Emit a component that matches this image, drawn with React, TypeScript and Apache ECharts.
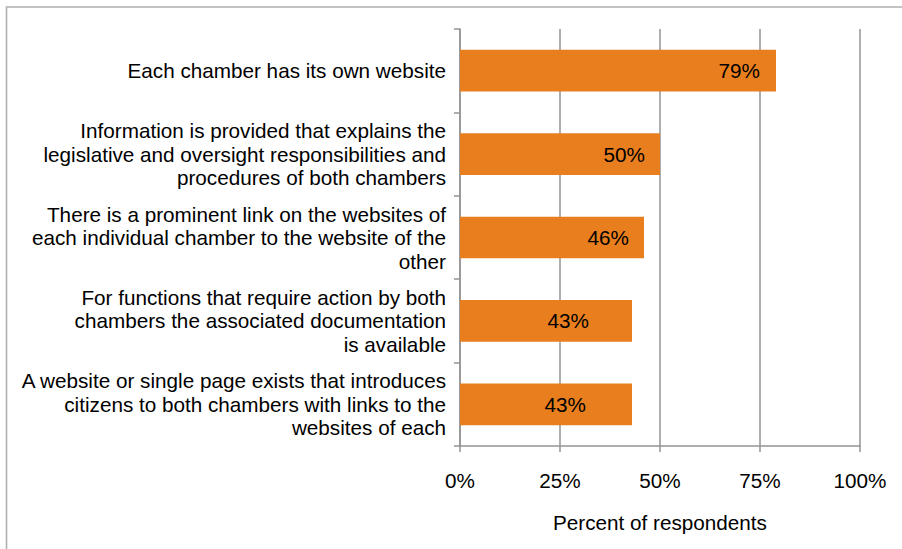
import React, { useEffect, useRef } from "react";
import * as echarts from "echarts";

const categories: string[] = [
  "Each chamber has its own website",
  "Information is provided that explains the\nlegislative and oversight responsibilities and\nprocedures of both chambers",
  "There is a prominent link on the websites of\neach individual chamber to the website of the\nother",
  "For functions that require action by both\nchambers the associated documentation\nis available",
  "A website or single page exists that introduces\ncitizens to both chambers with links to the\nwebsites of each",
];
const values: number[] = [79, 50, 46, 43, 43];
const xTicks: number[] = [0, 25, 50, 75, 100];
const axisName = "Percent of respondents";

// label inset from bar end (style only)
const labelInsets: number[] = [16, 15, 15, 43, 46];

const FONT = 'Arial, "Liberation Sans", sans-serif';
const FS = 20.7;
const GRID_COLOR = "#939393";
const BAR_COLOR = "#E87E1E";

export default function App() {
  const ref = useRef<HTMLDivElement>(null);
  useEffect(() => {
    if (!ref.current) return;
    const chart = echarts.init(ref.current, undefined, { renderer: "svg" });
    chart.setOption({
      animation: false,
      backgroundColor: "#ffffff",
      graphic: [
        {
          type: "rect",
          shape: { x: 6.5, y: 7, width: 1000, height: 1000 },
          style: { fill: "none", stroke: "#b0b0b0", lineWidth: 1.6 },
          silent: true,
        },
      ],
      grid: { left: 460, right: 42, top: 29, bottom: 103, containLabel: false },
      xAxis: {
        type: "value",
        min: xTicks[0],
        max: xTicks[xTicks.length - 1],
        interval: xTicks[1] - xTicks[0],
        name: axisName,
        nameLocation: "middle",
        nameGap: 66,
        nameTextStyle: { fontFamily: FONT, fontSize: FS, color: "#000" },
        axisLine: { show: true, lineStyle: { color: GRID_COLOR, width: 1.5 } },
        axisTick: { show: true, length: 6, lineStyle: { color: GRID_COLOR, width: 1.5 } },
        splitLine: { show: true, lineStyle: { color: GRID_COLOR, width: 1.5 } },
        axisLabel: {
          fontFamily: FONT,
          fontSize: FS,
          color: "#000",
          margin: 24,
          formatter: (v: number) => `${v}%`,
        },
      },
      yAxis: {
        type: "category",
        inverse: true,
        data: categories,
        axisLine: { show: true, lineStyle: { color: GRID_COLOR, width: 1.5 } },
        axisTick: { show: true, length: 6, lineStyle: { color: GRID_COLOR, width: 1.5 } },
        axisLabel: {
          fontFamily: FONT,
          fontSize: FS,
          lineHeight: 23.5,
          color: "#000",
          margin: 14,
          align: "right",
        },
      },
      series: [
        {
          type: "bar",
          barWidth: "50%",
          itemStyle: { color: BAR_COLOR },
          data: values.map((v, i) => ({
            value: v,
            label: {
              show: true,
              position: "insideRight",
              distance: labelInsets[i],
              formatter: "{c}%",
              fontFamily: FONT,
              fontSize: FS,
              color: "#000",
            },
          })),
        },
      ],
    });
    return () => chart.dispose();
  }, []);
  return (
    <div
      ref={ref}
      style={{ position: "fixed", left: 0, top: 0, width: 902, height: 549, background: "#fff" }}
    />
  );
}
